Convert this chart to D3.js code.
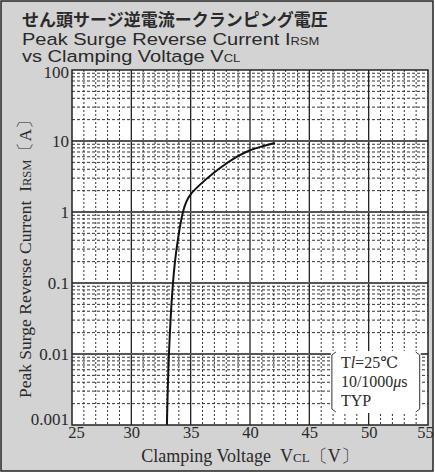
<!DOCTYPE html>
<html>
<head>
<meta charset="utf-8">
<script src="https://cdn.jsdelivr.net/npm/d3@7"></script>
<style>
  body { margin: 0; background: #fff; }
  svg text { fill: #2a2a2a; }
  .serif { font-family: "Liberation Serif", "DejaVu Serif", serif; }
</style>
</head>
<body>
<div id="chart"></div>
<script>
// Data
const voltage = [33.0, 33.17, 33.51, 33.81, 34.35, 34.65, 35.03, 35.79, 36.88, 37.89, 38.9, 39.91, 41.01, 42.1]
const current = [0.001, 0.01, 0.1, 0.3, 1, 1.41, 1.8, 2.43, 3.49, 4.66, 6.01, 7.3, 8.4, 9.38]
const xTicks = [25, 30, 35, 40, 45, 50, 55]
const yTicks = [0.001, 0.01, 0.1, 1, 10, 100]
const yTickLabels = ['0.001', '0.01', '0.1', '1', '10', '100']

function draw(){
    const dims = {
        width: 435,
        height: 473,
        margin: { top: 70, bottom: 48, left: 72, right: 7 }
    }
    dims.ctrWidth = dims.width - dims.margin.left - dims.margin.right
    dims.ctrHeight = dims.height - dims.margin.top - dims.margin.bottom

    const xScale = d3.scaleLinear()
        .domain([25, 55])
        .range([0, dims.ctrWidth])
    const yScale = d3.scaleLog()
        .domain([0.001, 100])
        .range([dims.ctrHeight, 0])

    const svg = d3.select('#chart')
        .append('svg')
        .attr('width', dims.width)
        .attr('height', dims.height)

    // background + frame
    svg.append('rect')
        .attr('x', 1).attr('y', 1)
        .attr('width', dims.width - 3).attr('height', dims.height - 3)
        .attr('fill', '#d3d3d3')
        .attr('stroke', '#222')
        .attr('stroke-width', 1.5)

    // titles (the original lettering is wide, so stretch it a bit)
    svg.append('text')
        .attr('x', 22).attr('y', 26)
        .style('font-family', '"Noto Sans CJK JP", sans-serif')
        .style('font-size', '17px')
        .style('font-weight', 700)
        .text('せん頭サージ逆電流ークランピング電圧')
    const sub = svg.append('g')
        .attr('transform', 'translate(22,0) scale(1.18,1)')
        .style('font-family', '"Liberation Sans", Arial, sans-serif')
        .style('font-size', '17px')
    const t2 = sub.append('text').attr('x', 0).attr('y', 45)
    t2.append('tspan').text('Peak Surge Reverse Current I')
    t2.append('tspan').style('font-size', '11px').text('RSM')
    const t3 = sub.append('text').attr('x', 0).attr('y', 62)
    t3.append('tspan').text('vs Clamping Voltage V')
    t3.append('tspan').style('font-size', '11px').text('CL')

    const ctr = svg.append('g')
        .attr('transform', `translate(${dims.margin.left}, ${dims.margin.top})`)

    ctr.append('rect')
        .attr('width', dims.ctrWidth)
        .attr('height', dims.ctrHeight)
        .attr('fill', '#fff')

    // minor grid
    const xMinor = d3.range(26, 55, 1).filter(v => v % 5 !== 0)
    ctr.selectAll('.vminor')
        .data(xMinor)
        .join('line')
        .attr('x1', d => xScale(d)).attr('x2', d => xScale(d))
        .attr('y1', 0).attr('y2', dims.ctrHeight)
        .attr('stroke', '#333')
        .attr('stroke-width', 1)
        .attr('stroke-dasharray', '2,2')

    const yMinor = []
    yTicks.slice(0, -1).forEach(dec => {
        for (let k = 2; k <= 9; k++) yMinor.push(dec * k)
    })
    ctr.selectAll('.hminor')
        .data(yMinor)
        .join('line')
        .attr('x1', 0).attr('x2', dims.ctrWidth)
        .attr('y1', d => yScale(d)).attr('y2', d => yScale(d))
        .attr('stroke', '#333')
        .attr('stroke-width', 1)
        .attr('stroke-dasharray', '3,2')

    // major grid
    ctr.selectAll('.vmajor')
        .data(xTicks.slice(1, -1))
        .join('line')
        .attr('x1', d => xScale(d)).attr('x2', d => xScale(d))
        .attr('y1', 0).attr('y2', dims.ctrHeight)
        .attr('stroke', '#222')
        .attr('stroke-width', 1.3)
    ctr.selectAll('.hmajor')
        .data(yTicks.slice(1, -1))
        .join('line')
        .attr('x1', 0).attr('x2', dims.ctrWidth)
        .attr('y1', d => yScale(d)).attr('y2', d => yScale(d))
        .attr('stroke', '#555')
        .attr('stroke-width', 1.8)

    // curve
    const pts = voltage.map((v, i) => [v, current[i]])
    const line = d3.line()
        .x(d => xScale(d[0]))
        .y(d => yScale(d[1]))
        .curve(d3.curveCatmullRom.alpha(0.5))
    ctr.append('path')
        .datum(pts)
        .attr('d', line)
        .attr('fill', 'none')
        .attr('stroke', '#111')
        .attr('stroke-width', 2)

    // legend box with bracket sides
    const lx = xScale(46.9), ly = 282
    const lw = xScale(54.3) - lx, lh = dims.ctrHeight - 13 - ly
    const leg = ctr.append('g').attr('transform', `translate(${lx}, ${ly})`)
    leg.append('rect')
        .attr('x', -1).attr('y', -1)
        .attr('width', lw + 2).attr('height', lh + 2)
        .attr('fill', '#fff')
    leg.append('path')
        .attr('d', `M4,0 L0,3 L0,${lh - 3} L4,${lh}`)
        .attr('fill', 'none').attr('stroke', '#333').attr('stroke-width', 1)
    leg.append('path')
        .attr('d', `M${lw - 4},0 L${lw},3 L${lw},${lh - 3} L${lw - 4},${lh}`)
        .attr('fill', 'none').attr('stroke', '#333').attr('stroke-width', 1)
    const legText = leg.append('g').attr('class', 'serif').style('font-size', '16px')
    const l1 = legText.append('text').attr('x', 9).attr('y', 16)
    l1.append('tspan').text('T')
    l1.append('tspan').style('font-style', 'italic').text('l')
    l1.append('tspan').text('=25℃')
    const l2 = legText.append('text').attr('x', 9).attr('y', 35)
    l2.append('tspan').text('10/1000')
    l2.append('tspan').style('font-style', 'italic').text('μ')
    l2.append('tspan').text('s')
    legText.append('text').attr('x', 9).attr('y', 54).text('TYP')

    // frame of plot
    ctr.append('rect')
        .attr('width', dims.ctrWidth)
        .attr('height', dims.ctrHeight)
        .attr('fill', 'none')
        .attr('stroke', '#222')
        .attr('stroke-width', 1.5)

    // axes
    const xAxis = d3.axisBottom(xScale)
        .tickValues(xTicks)
        .tickSize(0)
        .tickPadding(1)
    const xAxisGroup = ctr.append('g')
        .call(xAxis)
        .attr('transform', `translate(0, ${dims.ctrHeight})`)
    xAxisGroup.select('.domain').remove()
    xAxisGroup.selectAll('text')
        .style('font-family', '"Liberation Serif", serif')
        .style('font-size', '16.5px')
        .attr('fill', '#2a2a2a')
        .attr('dx', d => d === 25 ? 4 : d === 55 ? -3 : 0)

    const yAxis = d3.axisLeft(yScale)
        .tickValues(yTicks)
        .tickFormat((d, i) => yTickLabels[i])
        .tickSize(0)
        .tickPadding(3)
    const yAxisGroup = ctr.append('g').call(yAxis)
    yAxisGroup.select('.domain').remove()
    yAxisGroup.selectAll('text')
        .style('font-family', '"Liberation Serif", serif')
        .style('font-size', '17px')
        .attr('fill', '#2a2a2a')
        .attr('dy', (d, i) => i === 0 ? '-0.05em' : i === 5 ? '0.42em' : '0.35em')

    // axis titles
    const xt = svg.append('text')
        .attr('x', dims.margin.left + dims.ctrWidth / 2)
        .attr('y', 462)
        .attr('text-anchor', 'middle')
        .attr('class', 'serif')
        .style('font-size', '18px')
    xt.append('tspan').text('Clamping Voltage\u00a0\u00a0V')
    xt.append('tspan').style('font-size', '13px').text('CL')
    xt.append('tspan').text('〔V〕')

    const yt = svg.append('text')
        .attr('transform', `translate(31, ${dims.margin.top + dims.ctrHeight / 2 + 7}) rotate(-90)`)
        .attr('text-anchor', 'middle')
        .attr('class', 'serif')
        .style('font-size', '17.5px')
    yt.append('tspan').text('Peak Surge Reverse Current\u00a0\u00a0I')
    yt.append('tspan').style('font-size', '12.5px').text('RSM')
    yt.append('tspan').text('〔A〕')
}
draw()
</script>
</body>
</html>
